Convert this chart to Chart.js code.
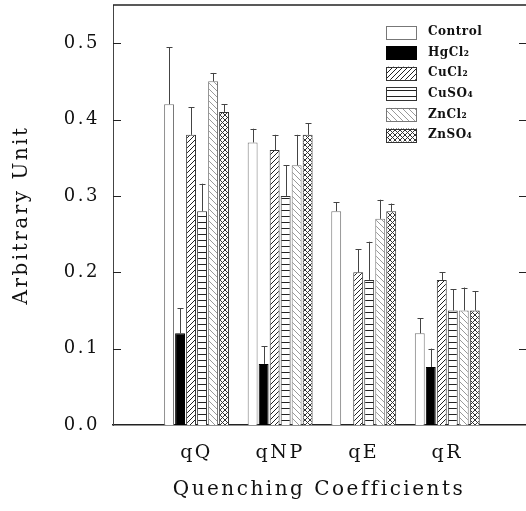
<!DOCTYPE html>
<html>
<head>
<meta charset="utf-8">
<script src="https://cdn.jsdelivr.net/npm/chart.js@4.4.1/dist/chart.umd.min.js"></script>
<style>
  html, body { margin: 0; padding: 0; background: #fff; }
  #wrap { width: 526px; height: 511px; position: relative; }
</style>
</head>
<body>
<div id="wrap"><canvas id="chart"></canvas></div>
<script>
// Coeficientes no eixo x
const categories = ['qQ', 'qNP', 'qE', 'qR'];
const seriesNames = ['Control', 'HgCl₂', 'CuCl₂', 'CuSO₄', 'ZnCl₂', 'ZnSO₄'];
const yTicks = [0.0, 0.1, 0.2, 0.3, 0.4, 0.5];

// Altura das barras (arbitrary unit)
const control = [0.42, 0.37, 0.28, 0.12];
const hgcl2 = [0.12, 0.08, null, 0.076];
const cucl2 = [0.38, 0.36, 0.20, 0.19];
const cuso4 = [0.28, 0.30, 0.19, 0.15];
const zncl2 = [0.45, 0.34, 0.27, 0.15];
const znso4 = [0.41, 0.38, 0.28, 0.15];

// Barras de erro (só para cima)
const controlErr = [0.075, 0.018, 0.012, 0.02];
const hgcl2Err = [0.033, 0.023, null, 0.024];
const cucl2Err = [0.036, 0.02, 0.03, 0.01];
const cuso4Err = [0.036, 0.04, 0.05, 0.028];
const zncl2Err = [0.011, 0.04, 0.025, 0.03];
const znso4Err = [0.01, 0.015, 0.01, 0.025];

const series = [control, hgcl2, cucl2, cuso4, zncl2, znso4];
const errors = [controlErr, hgcl2Err, cucl2Err, cuso4Err, zncl2Err, znso4Err];

// texturas das barras
function makePattern(w, h, color, draw) {
    const c = document.createElement('canvas');
    c.width = w; c.height = h;
    const g = c.getContext('2d');
    g.fillStyle = '#fff';
    g.fillRect(0, 0, w, h);
    g.strokeStyle = color;
    g.lineWidth = 1;
    g.beginPath();
    draw(g, w, h);
    g.stroke();
    return g.createPattern(c, 'repeat');
}

const slash = (g, w, h) => {
    g.moveTo(-1, h + 1); g.lineTo(w + 1, -1);
    g.moveTo(-1, 1); g.lineTo(1, -1);
    g.moveTo(w - 1, h + 1); g.lineTo(w + 1, h - 1);
};
const backslash = (g, w, h) => {
    g.moveTo(-1, -1); g.lineTo(w + 1, h + 1);
    g.moveTo(w - 1, -1); g.lineTo(w + 1, 1);
    g.moveTo(-1, h - 1); g.lineTo(1, h + 1);
};

const fills = [
    '#ffffff',
    '#000000',
    makePattern(5, 5, '#222', slash),
    makePattern(1, 6, '#222', (g, w) => { g.moveTo(0, 0.5); g.lineTo(w, 0.5); }),
    makePattern(6, 6, '#999', backslash),
    makePattern(5, 5, '#333', (g, w, h) => { slash(g, w, h); backslash(g, w, h); })
];
const borders = ['#777', '#000', '#333', '#333', '#777', '#333'];

const errorBars = {
    id: 'errorBars',
    afterDatasetsDraw(chart) {
        const ctx = chart.ctx;
        const y = chart.scales.y;
        ctx.save();
        ctx.strokeStyle = '#444';
        ctx.lineWidth = 1;
        chart.data.datasets.forEach((ds, i) => {
            chart.getDatasetMeta(i).data.forEach((bar, j) => {
                const v = ds.data[j].y, e = errors[i][j];
                if (v == null || e == null) return;
                const top = y.getPixelForValue(v + e);
                const x = Math.round(bar.x) + 0.5;
                ctx.beginPath();
                ctx.moveTo(x, bar.y);
                ctx.lineTo(x, top);
                ctx.moveTo(x - 3, Math.round(top) + 0.5);
                ctx.lineTo(x + 3, Math.round(top) + 0.5);
                ctx.stroke();
            });
        });
        ctx.restore();
    }
};

// moldura: linha de cima, ticks para dentro e legenda
const frame = {
    id: 'frame',
    beforeDraw(chart) {
        chart.ctx.letterSpacing = '2.5px';
    },
    afterDraw(chart) {
        const ctx = chart.ctx;
        const a = chart.chartArea;
        const y = chart.scales.y;
        ctx.save();
        ctx.strokeStyle = '#222';
        ctx.lineWidth = 1.5;
        ctx.beginPath();
        ctx.moveTo(a.left, a.top);
        ctx.lineTo(a.right + 2, a.top);
        ctx.stroke();
        ctx.lineWidth = 1;
        ctx.beginPath();
        yTicks.slice(1).forEach(v => {
            const py = Math.round(y.getPixelForValue(v)) + 0.5;
            ctx.moveTo(a.left, py); ctx.lineTo(a.left + 8, py);
            ctx.moveTo(a.right - 6, py); ctx.lineTo(a.right + 1, py);
        });
        ctx.stroke();

        // legenda
        ctx.letterSpacing = '0.5px';
        ctx.font = 'bold 12px "DejaVu Serif"';
        ctx.textBaseline = 'middle';
        ctx.textAlign = 'left';
        chart.data.datasets.forEach((ds, i) => {
            const cy = 32 + i * 20.6;
            ctx.fillStyle = fills[i];
            ctx.fillRect(386, cy - 6.5, 31, 13);
            ctx.strokeStyle = borders[i];
            ctx.strokeRect(386.5, Math.round(cy - 6.5) + 0.5, 30, 13);
            ctx.fillStyle = '#111';
            ctx.fillText(ds.label, 428, cy);
        });
        ctx.restore();
    }
};

Chart.defaults.font.family = '"DejaVu Serif", "Liberation Serif", serif';
Chart.defaults.color = '#111';

new Chart(document.getElementById('chart'), {
    type: 'bar',
    data: {
        datasets: series.map((vals, i) => ({
            label: seriesNames[i],
            data: vals.map((v, j) => ({ x: j + 1, y: v })),
            backgroundColor: fills[i],
            borderColor: borders[i],
            borderWidth: 1,
            categoryPercentage: 0.79,
            barPercentage: 0.9
        }))
    },
    options: {
        responsive: true,
        maintainAspectRatio: false,
        animation: false,
        layout: { padding: { top: 5, right: 1, bottom: 0, left: 0 } },
        plugins: {
            legend: { display: false },
            tooltip: { enabled: false }
        },
        scales: {
            x: {
                type: 'linear',
                offset: false,
                min: 0,
                max: 4.93,
                afterBuildTicks: s => { s.ticks = categories.map((c, i) => ({ value: i + 1 })); },
                afterFit: s => { s.height = 86; s.paddingLeft = 0; s.paddingRight = 0; },
                ticks: {
                    callback: v => categories[v - 1],
                    padding: 17,
                    font: { size: 19 },
                    autoSkip: false,
                    maxRotation: 0
                },
                grid: { display: false, drawTicks: false, offset: false },
                border: { color: '#222', width: 1.5 },
                title: {
                    display: true,
                    text: 'Quenching Coefficients',
                    font: { size: 20 },
                    padding: { top: 0, bottom: 9 }
                }
            },
            y: {
                min: 0,
                max: 0.55,
                afterBuildTicks: s => { s.ticks = yTicks.map(v => ({ value: v })); },
                afterFit: s => { s.width = 113; s.paddingTop = 0; s.paddingBottom = 0; },
                ticks: {
                    callback: v => v.toFixed(1),
                    padding: 13,
                    font: { size: 18 }
                },
                grid: { display: false, drawTicks: false },
                border: { color: '#444', width: 1 },
                title: {
                    display: true,
                    text: 'Arbitrary Unit',
                    font: { size: 20 },
                    padding: { top: 10, bottom: 0 }
                }
            }
        }
    },
    plugins: [errorBars, frame]
});
</script>
</body>
</html>
